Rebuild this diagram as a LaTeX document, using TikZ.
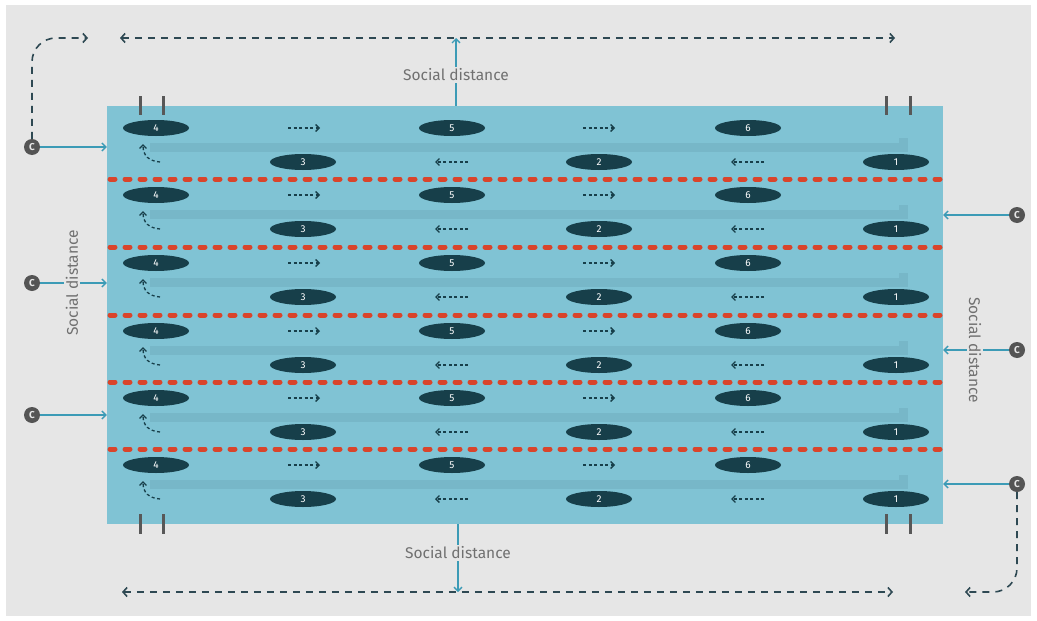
\documentclass[tikz,border=0pt]{standalone}
\usepackage{fontspec}
\setsansfont{Fira Sans}
\usetikzlibrary{arrows.meta,positioning,shapes.geometric}
\definecolor{BgGrey}{HTML}{E6E6E6}
\definecolor{PoolBlue}{HTML}{80C3D4}
\definecolor{BandBlue}{HTML}{77B7C8}
\definecolor{Teal}{HTML}{173F4A}
\definecolor{RopeRed}{HTML}{D9442B}
\definecolor{LinkBlue}{HTML}{3C9BB6}
\definecolor{PathSlate}{HTML}{2E4953}
\definecolor{BlockGrey}{HTML}{585858}
\definecolor{CoachGrey}{HTML}{545454}
\definecolor{TextGrey}{HTML}{707070}

\begin{document}
\begin{tikzpicture}[x=1pt,y=-1pt,
 pool/.style={rectangle,fill=PoolBlue,minimum width=836pt,minimum height=418pt,inner sep=0pt},
 swimmer/.style={ellipse,fill=Teal,minimum width=66pt,minimum height=16pt,inner sep=0pt,text=white,font=\fontsize{10}{10}\sffamily},
 coach/.style={circle,fill=CoachGrey,minimum size=16pt,inner sep=0pt,text=BgGrey,font=\fontsize{10}{10}\sffamily\bfseries},
 lanerope/.style={draw=RopeRed,line width=5pt,line cap=round,dash pattern=on 5pt off 10pt},
 swim/.style={-{Straight Barb[length=3.5pt,width=7pt]},draw=Teal,line width=1.3pt,dash pattern=on 3pt off 2.5pt},
 link/.style={-{Straight Barb[length=4pt,width=8pt]},draw=LinkBlue,line width=1.4pt},
 walk/.style={draw=PathSlate,line width=1.6pt,dash pattern=on 7pt off 6pt,arrows={-{Straight Barb[length=4pt,width=9pt]}}},
 blockbar/.style={draw=BlockGrey,line width=3pt},
 distlabel/.style={fill=BgGrey,inner sep=2pt,text=TextGrey,font=\fontsize{15.5}{16}\sffamily}]
 \fill[white](0,0)rectangle(1037,621);
 \useasboundingbox(0,0)rectangle(1037,621);
 \fill[BgGrey](6,5)rectangle(1031,616);
 % pool and lanes
 \node[pool](pool) at (525,315){};
 \foreach \d [count=\l] in {112,179,247,315,382,449}{
  \fill[BandBlue](150,\d+31)rectangle(908,\d+40);
  \fill[BandBlue](899,\d+26)rectangle(908,\d+40);
  \node[swimmer](s\l-4) at (156,\d+16){4};
  \node[swimmer](s\l-5) at (452,\d+16){5};
  \node[swimmer](s\l-6) at (748,\d+16){6};
  \node[swimmer](s\l-3) at (303,\d+50){3};
  \node[swimmer](s\l-2) at (599,\d+50){2};
  \node[swimmer](s\l-1) at (896,\d+50){1};
  \draw[swim](288,\d+16)--(320,\d+16);
  \draw[swim](583,\d+16)--(615,\d+16);
  \draw[swim](468,\d+50)--(435,\d+50);
  \draw[swim](764,\d+50)--(731,\d+50);
  \draw[swim](160,\d+50) .. controls (149,\d+49) and (143,\d+44) .. (143,\d+32);
 }
 \foreach \d in {179,247,315,382,449}
  \draw[lanerope](110,\d)--(940,\d);
 \foreach \x in {140,163,886,910}{
  \draw[blockbar](\x,96)--(\x,115);
  \draw[blockbar](\x,514)--(\x,534);
 }
 % coaches
 \node[coach](c1) at (32,147){C};
 \node[coach](c2) at (32,283){C};
 \node[coach](c3) at (32,415){C};
 \node[coach](c4) at (1017,215){C};
 \node[coach](c5) at (1017,350){C};
 \node[coach](c6) at (1017,484){C};
 \foreach \c in {c1,c2,c3}\draw[link](\c)--(\c -| pool.west);
 \foreach \c in {c4,c5,c6}\draw[link](\c)--(\c -| pool.east);
 % walking routes
 \coordinate(topl) at (120,38);\coordinate(topr) at (895,38);\coordinate(topm) at (456,38);
 \coordinate(botl) at (122,592);\coordinate(botr) at (893,592);\coordinate(botm) at (458,592);
 \coordinate(cornl) at (88,38);\coordinate(cornr) at (965,592);
 \draw[walk,arrows={{Straight Barb[length=4pt,width=9pt]}-{Straight Barb[length=4pt,width=9pt]}}](topl)--(topr);
 \draw[walk,arrows={{Straight Barb[length=4pt,width=9pt]}-{Straight Barb[length=4pt,width=9pt]}}](botl)--(botr);
 \draw[walk,rounded corners=24pt](c1.north)|-(cornl);
 \draw[walk,rounded corners=24pt](c6.south)|-(cornr);
 \draw[link](pool.north -| topm)--(topm);
 \draw[link](pool.south -| botm)--(botm);
 % labels
 \node[distlabel](sdtop) at (456,75){Social distance};
 \node[distlabel](sdbot) at (458,553){Social distance};
 \node[distlabel,rotate=90](sdleft) at (72,283){Social distance};
 \node[distlabel,rotate=-90](sdright) at (975,350){Social distance};
\end{tikzpicture}
\end{document}
